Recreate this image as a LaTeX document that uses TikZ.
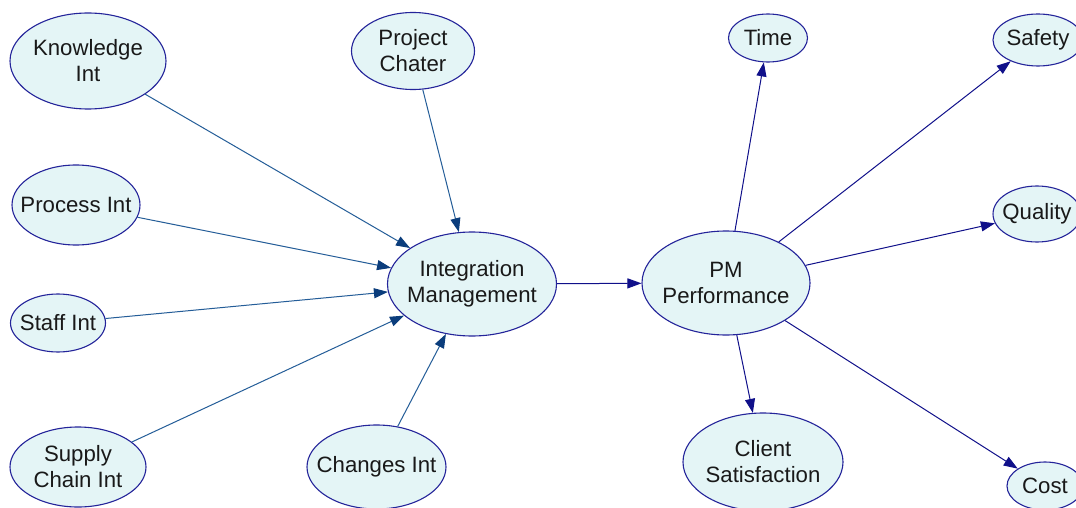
\documentclass[tikz,border=0pt]{standalone}
\usepackage{fontspec}
\setmainfont{Liberation Sans}
\usetikzlibrary{arrows.meta,shapes.geometric}
\definecolor{nfill}{HTML}{E4F5F6}
\definecolor{nborder}{HTML}{24249A}
\definecolor{inedge}{HTML}{245D98}
\definecolor{inhead}{HTML}{0B3D7C}
\definecolor{outedge}{HTML}{10108A}
\begin{document}
\begin{tikzpicture}[x=1pt,y=-1pt,
  el/.style={ellipse,draw=nborder,fill=nfill,line width=1.1pt,inner sep=0pt},
  every label/.style={align=center,inner sep=0pt,text=black!90,font=\fontsize{22.2}{26}\selectfont},
  inarrow/.style={draw=inedge,line width=1pt,-{Triangle[length=14pt,width=10pt,color=inhead,fill=inhead]}},
  outarrow/.style={draw=outedge,line width=1pt,-{Triangle[length=14pt,width=10pt]}}]
\useasboundingbox (0,0) rectangle (1076,508);
\fill[white] (0,0) rectangle (1076,508);
\clip (0,0) rectangle (1076,508);
% left nodes
\node[el,minimum width=156pt,minimum height=96pt,label={center:Knowledge\\Int}] (ki) at (88,61) {};
\node[el,minimum width=123pt,minimum height=77pt,label={center:Project\\Chater}] (pc) at (413,51) {};
\node[el,minimum width=128pt,minimum height=80pt,label={center:Process Int}] (pi) at (76,205) {};
\node[el,minimum width=95pt,minimum height=58pt,label={center:Staff Int}] (si) at (58,323) {};
\node[el,minimum width=136pt,minimum height=80pt,label={center:Supply\\Chain Int}] (sc) at (78,467) {};
\node[el,minimum width=139pt,minimum height=84pt,label={center:Changes Int}] (ci) at (376.5,467) {};
\node[el,minimum width=169pt,minimum height=104pt,label={center:Integration\\Management}] (im) at (472,284) {};
% right nodes
\node[el,minimum width=168pt,minimum height=104pt,label={center:PM\\Performance}] (pm) at (726,283) {};
\node[el,minimum width=79pt,minimum height=48pt,label={center:Time}] (ti) at (768,38) {};
\node[el,minimum width=90pt,minimum height=52pt,label={center:Safety}] (sa) at (1038,40) {};
\node[el,minimum width=88pt,minimum height=56pt,label={center:Quality}] (qu) at (1037,214) {};
\node[el,minimum width=160pt,minimum height=98pt,label={center:Client\\Satisfaction}] (cs) at (763,462) {};
\node[el,minimum width=76pt,minimum height=48pt,label={center:Cost}] (co) at (1045,486) {};
% edges into Integration Management
\draw[inarrow] (ki) -- (im);
\draw[inarrow] (pc) -- (im);
\draw[inarrow] (pi) -- (im);
\draw[inarrow] (si) -- (im);
\draw[inarrow] (sc) -- (im);
\draw[inarrow] (ci) -- (im);
% edges out
\draw[outarrow] (im) -- (pm);
\draw[outarrow] (pm) -- (ti);
\draw[outarrow] (pm) -- (sa);
\draw[outarrow] (pm) -- (qu);
\draw[outarrow] (pm) -- (cs);
\draw[outarrow] (pm) -- (co);
\end{tikzpicture}
\end{document}
